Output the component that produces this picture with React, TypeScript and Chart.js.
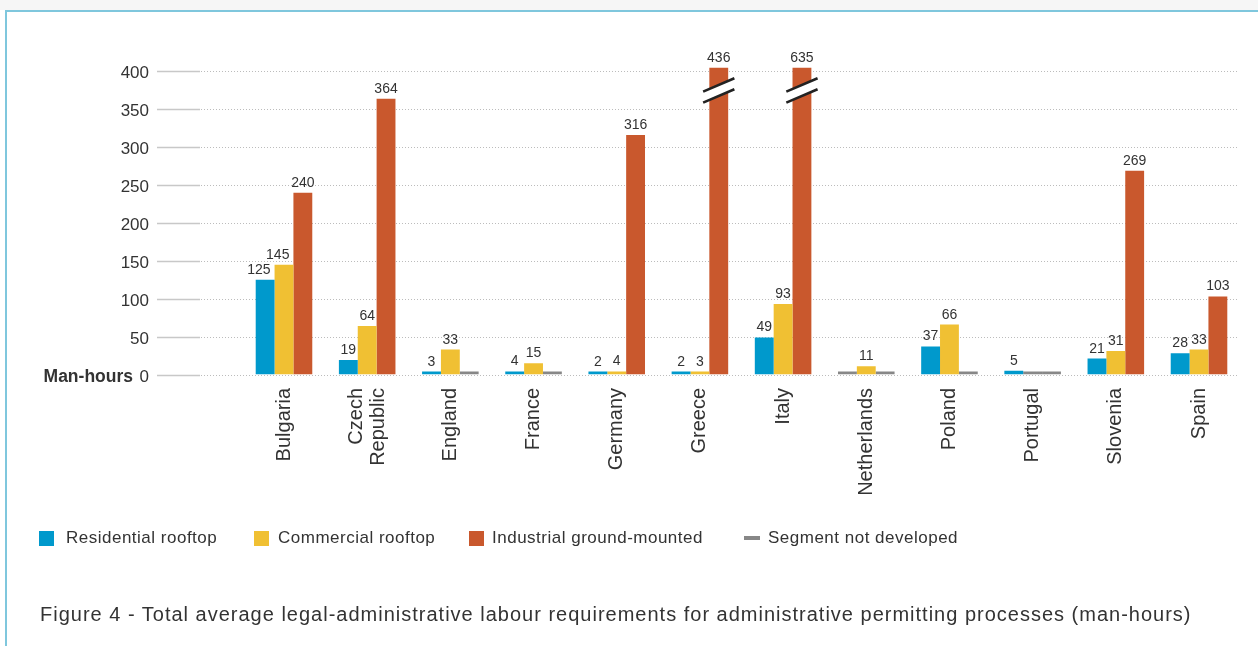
import React, { useEffect, useRef } from 'react';
import { Chart, registerables } from 'chart.js';

Chart.register(...registerables);

// ---------- data ----------
const categories: (string | string[])[] = [
  'Bulgaria',
  ['Czech', 'Republic'],
  'England',
  'France',
  'Germany',
  'Greece',
  'Italy',
  'Netherlands',
  'Poland',
  'Portugal',
  'Slovenia',
  'Spain',
];

// null = segment not developed
const residential: (number | null)[] = [125, 19, 3, 4, 2, 2, 49, null, 37, 5, 21, 28];
const commercial: (number | null)[] = [145, 64, 33, 15, 4, 3, 93, 11, 66, null, 31, 33];
const industrial: (number | null)[] = [240, 364, null, null, 316, 436, 635, null, null, null, 269, 103];

const yTicks = [0, 50, 100, 150, 200, 250, 300, 350, 400];
const yMax = 405;
const breakValue = 375;
const NOT_DEVELOPED_STUB = 0.001;

const seriesNames = ['Residential rooftop', 'Commercial rooftop', 'Industrial ground-mounted'];
const notDevelopedName = 'Segment not developed';
const yAxisTitle = 'Man-hours';
const caption =
  'Figure 4 - Total average legal-administrative labour requirements for administrative permitting processes (man-hours)';

const seriesColors = ['#0099CC', '#F0C033', '#C9582D'];
const grayColor = '#878787';
const textColor = '#333333';

const FONT = '"Liberation Sans", Arial, Helvetica, sans-serif';

const series = [residential, commercial, industrial];

const decorPlugin = {
  id: 'decor',
  beforeDatasetsDraw(chart: any) {
    const { ctx, chartArea, scales } = chart;
    const y = scales.y;
    const x = scales.x;
    ctx.save();
    // grid lines + y tick labels
    yTicks.forEach((v) => {
      const py = Math.round(y.getPixelForValue(v)) + 0.5;
      ctx.setLineDash([]);
      ctx.strokeStyle = '#c8c8c8';
      ctx.lineWidth = 1.5;
      ctx.beginPath();
      ctx.moveTo(157, py);
      ctx.lineTo(200, py);
      ctx.stroke();
      ctx.setLineDash([1, 2]);
      ctx.strokeStyle = '#bcbcbc';
      ctx.lineWidth = 1;
      ctx.beginPath();
      ctx.moveTo(201, py);
      ctx.lineTo(1239, py);
      ctx.stroke();
      ctx.setLineDash([]);
      ctx.fillStyle = textColor;
      ctx.font = `17px ${FONT}`;
      ctx.textAlign = 'right';
      ctx.textBaseline = 'alphabetic';
      ctx.fillText(String(v), 149, py + 6);
    });
    // axis title
    const p0 = Math.round(y.getPixelForValue(0)) + 0.5;
    ctx.font = `bold 17.5px ${FONT}`;
    ctx.textAlign = 'right';
    ctx.fillText(yAxisTitle, 133, p0 + 6);

    // x category labels (rotated)
    ctx.font = `20px ${FONT}`;
    ctx.fillStyle = textColor;
    const lh = 22;
    categories.forEach((c, i) => {
      const lines = Array.isArray(c) ? c : [c];
      const cx = x.getPixelForValue(i);
      const anchorY = chartArea.bottom + 13.5;
      lines.forEach((line, li) => {
        const off = (li - (lines.length - 1) / 2) * lh;
        ctx.save();
        ctx.translate(cx + off, anchorY);
        ctx.rotate(-Math.PI / 2);
        ctx.textAlign = 'right';
        ctx.textBaseline = 'middle';
        ctx.fillText(line, 0, 0);
        ctx.restore();
      });
    });
    ctx.restore();
  },
  afterDatasetsDraw(chart: any) {
    const { ctx, chartArea, scales } = chart;
    const y = scales.y;
    ctx.save();
    ctx.font = `14px ${FONT}`;
    ctx.fillStyle = textColor;
    ctx.textAlign = 'center';
    ctx.textBaseline = 'alphabetic';
    series.forEach((vals, di) => {
      const meta = chart.getDatasetMeta(di);
      meta.data.forEach((bar: any, i: number) => {
        const v = vals[i];
        if (v === null) return;
        const top = Math.max(bar.y, chartArea.top);
        const txt = String(v);
        const w = ctx.measureText(txt).width;
        let cx = bar.x;
        const baseline = top - 6;
        const nextVals = series[di + 1];
        if (nextVals && nextVals[i] !== null && cx + w / 2 > bar.x + bar.width / 2) {
          const nb = chart.getDatasetMeta(di + 1).data[i];
          if (Math.max(nb.y, chartArea.top) < baseline) {
            cx = bar.x + bar.width / 2 - 4 - w / 2;
          }
        }
        ctx.fillStyle = textColor;
        ctx.fillText(txt, cx, baseline);

        if (v > yMax) {
          const cy = y.getPixelForValue(breakValue);
          const hw = bar.width / 2 + 6.2;
          const rise = hw * 0.43;
          const gap = 5.5;
          ctx.fillStyle = '#ffffff';
          ctx.beginPath();
          ctx.moveTo(bar.x - hw, cy - gap + rise);
          ctx.lineTo(bar.x + hw, cy - gap - rise);
          ctx.lineTo(bar.x + hw, cy + gap - rise);
          ctx.lineTo(bar.x - hw, cy + gap + rise);
          ctx.closePath();
          ctx.fill();
          ctx.strokeStyle = '#222222';
          ctx.lineWidth = 2.6;
          ctx.beginPath();
          ctx.moveTo(bar.x - hw, cy - gap + rise);
          ctx.lineTo(bar.x + hw, cy - gap - rise);
          ctx.moveTo(bar.x - hw, cy + gap + rise);
          ctx.lineTo(bar.x + hw, cy + gap - rise);
          ctx.stroke();
        }
      });
    });
    ctx.restore();
  },
};

export default function App() {
  const ref = useRef<HTMLCanvasElement>(null);

  useEffect(() => {
    const canvas = ref.current;
    if (!canvas) return;
    const chart = new Chart(canvas, {
      type: 'bar',
      data: {
        labels: categories.map((c) => (Array.isArray(c) ? c.join(' ') : c)),
        datasets: series.map((vals, si) => ({
          label: seriesNames[si],
          data: vals.map((v) => (v === null ? NOT_DEVELOPED_STUB : v)),
          backgroundColor: vals.map((v) => (v === null ? grayColor : seriesColors[si])),
          borderWidth: 0,
          minBarLength: 3,
          categoryPercentage: 0.68,
          barPercentage: 1,
        })),
      },
      options: {
        responsive: false,
        animation: false,
        events: [],
        layout: { padding: { left: 242.4, right: 17.4, top: 67.7, bottom: 271.5 } },
        scales: {
          x: { display: false },
          y: { display: false, min: 0, max: yMax },
        },
        plugins: {
          legend: { display: false },
          tooltip: { enabled: false },
        },
      },
      plugins: [decorPlugin],
    } as any);
    return () => chart.destroy();
  }, []);

  const legendBoxLefts = [39, 254, 469, 744];
  const legendTextLefts = [66, 278, 492, 768];
  const legendItems = [
    ...seriesNames.map((n, i) => ({ name: n, color: seriesColors[i], dash: false })),
    { name: notDevelopedName, color: grayColor, dash: true },
  ];

  return (
    <div
      style={{
        position: 'absolute',
        left: 0,
        top: 0,
        width: 1258,
        height: 646,
        background: '#ffffff',
        overflow: 'hidden',
        fontFamily: FONT,
        color: textColor,
      }}
    >
      <div style={{ position: 'absolute', left: 0, top: 0, width: 1258, height: 10, background: '#f6f6f6' }} />
      <div
        style={{
          position: 'absolute',
          left: 5,
          top: 10,
          right: -10,
          bottom: -10,
          borderTop: '2px solid #7fc7dd',
          borderLeft: '2px solid #7fc7dd',
        }}
      />
      <canvas ref={ref} width={1258} height={646} style={{ position: 'absolute', left: 0, top: 0 }} />
      {legendItems.map((it, i) => (
        <React.Fragment key={it.name}>
          <span
            style={{
              position: 'absolute',
              left: legendBoxLefts[i],
              top: it.dash ? 536 : 530.5,
              width: it.dash ? 16 : 15,
              height: it.dash ? 4 : 15,
              background: it.color,
            }}
          />
          <span
            style={{
              position: 'absolute',
              left: legendTextLefts[i],
              top: 528,
              fontSize: 17,
              lineHeight: '20px',
              letterSpacing: '0.5px',
              whiteSpace: 'nowrap',
            }}
          >
            {it.name}
          </span>
        </React.Fragment>
      ))}
      <div
        style={{
          position: 'absolute',
          left: 40,
          top: 602,
          fontSize: 20,
          lineHeight: '24px',
          letterSpacing: '1px',
          whiteSpace: 'nowrap',
        }}
      >
        {caption}
      </div>
    </div>
  );
}
